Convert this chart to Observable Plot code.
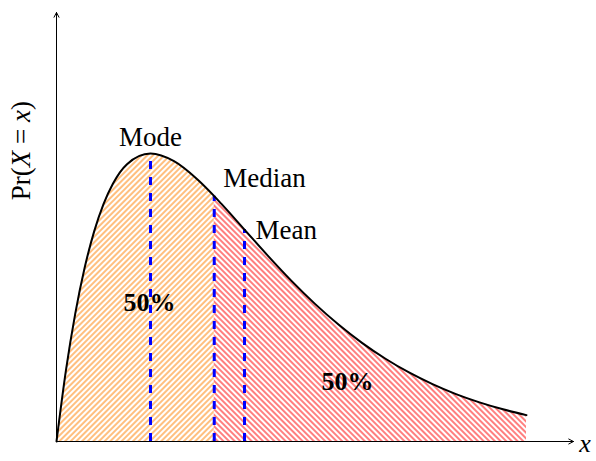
<!DOCTYPE html>
<html><head><meta charset="utf-8">
<script src="https://cdn.jsdelivr.net/npm/d3@7"></script>
<script src="https://cdn.jsdelivr.net/npm/@observablehq/plot@0.6"></script>
<style>html,body{margin:0;padding:0;background:#fff;} svg text{font-family:'Liberation Serif','Times New Roman',serif;}</style>
</head><body><div id="chart"></div>
<script>
// Curve (x in arbitrary units, density)
const xValues = [0, 0.1, 0.2, 0.3, 0.4, 0.5, 0.6, 0.75, 1.0, 1.25, 1.5, 1.678, 1.75, 2.0, 2.25, 2.5, 2.75, 3.0, 3.25, 3.5, 3.75, 4.0, 4.25, 4.5, 4.75, 5.0];
const densityValues = [0, 0.0905, 0.1637, 0.2222, 0.2681, 0.3033, 0.3293, 0.3543, 0.3679, 0.3581, 0.3347, 0.3134, 0.3041, 0.2707, 0.2372, 0.2052, 0.1758, 0.1494, 0.1260, 0.1057, 0.0882, 0.0733, 0.0606, 0.0500, 0.0411, 0.0337];
// Statistics marked with dashed lines
const statNames = ["Mode", "Median", "Mean"];
const statX = [1.0, 1.678, 2.0];
const statY = [0.3679, 0.3134, 0.2707];
// Area labels
const halfLabels = ["50%", "50%"];
const yLabel = "Pr(X = x)";
const xLabel = "x";

const curve = xValues.map((x, i) => ({x, y: densityValues[i]}));
const medianX = statX[1];
const leftPart = curve.filter(d => d.x <= medianX);
const rightPart = curve.filter(d => d.x >= medianX);
const stats = statNames.map((name, i) => ({name, x: statX[i], y: statY[i], base: 0}));
const axesData = [
  {x1: 0, y1: 0, x2: 5.5, y2: 0},
  {x1: 0, y1: 0, x2: 0, y2: 0.548}
];

const serif = "'Liberation Serif', 'Times New Roman', serif";
const fs = 27;

const svg = Plot.plot({
  width: 596, height: 461,
  marginLeft: 56, marginRight: 23, marginTop: 12, marginBottom: 20,
  x: {domain: [0, 5.5], axis: null},
  y: {domain: [0, 0.548], axis: null},
  style: {background: "white", fontFamily: serif, overflow: "visible", color: "black"},
  marks: [
    Plot.areaY(leftPart, {x: "x", y: "y", fill: "url(#hatch-orange)", curve: "monotone-x"}),
    Plot.areaY(rightPart, {x: "x", y: "y", fill: "url(#hatch-red)", curve: "monotone-x"}),
    Plot.ruleX(stats, {x: "x", y1: "base", y2: "y", stroke: "blue", strokeWidth: 3, strokeDasharray: "8,8"}),
    Plot.line(curve, {x: "x", y: "y", stroke: "black", strokeWidth: 2, curve: "monotone-x"}),
    Plot.arrow(axesData, {x1: "x1", y1: "y1", x2: "x2", y2: "y2", stroke: "black", strokeWidth: 1, headLength: 8, headAngle: 55}),
    Plot.text(stats.filter(d => d.name === "Mode"), {x: "x", y: "y", text: "name", textAnchor: "middle", lineAnchor: "bottom", dy: -7, fontSize: fs, fontFamily: serif}),
    Plot.text(stats.filter(d => d.name === "Median"), {x: "x", y: "y", text: "name", textAnchor: "start", lineAnchor: "bottom", dx: 9, dy: -9, fontSize: fs, fontFamily: serif}),
    Plot.text(stats.filter(d => d.name === "Mean"), {x: "x", y: "y", text: "name", textAnchor: "start", lineAnchor: "bottom", dx: 11, dy: 9, fontSize: fs, fontFamily: serif}),
    Plot.text([halfLabels[0]], {x: [0.989], y: [0.167], text: d => d, textAnchor: "middle", lineAnchor: "bottom", fontSize: 26, fontWeight: "bold", fontFamily: serif}),
    Plot.text([halfLabels[1]], {x: [3.096], y: [0.0664], text: d => d, textAnchor: "middle", lineAnchor: "bottom", fontSize: 26, fontWeight: "bold", fontFamily: serif}),
    Plot.text([yLabel], {x: [-0.372], y: [0.3716], text: d => d, rotate: -90, textAnchor: "middle", lineAnchor: "middle", fontSize: fs, fontFamily: serif}),
    Plot.text([xLabel], {x: [5.56], y: [-0.0135], text: d => d, textAnchor: "start", lineAnchor: "bottom", fontSize: 26, fontStyle: "italic", fontFamily: serif})
  ]
});

// hatch patterns
const defs = d3.select(svg).insert("defs", ":first-child");
function hatch(id, color, angle) {
  const p = defs.append("pattern").attr("id", id)
    .attr("patternUnits", "userSpaceOnUse")
    .attr("width", 4).attr("height", 4)
    .attr("patternTransform", `rotate(${angle})`);
  p.append("line").attr("x1", 2).attr("y1", -1).attr("x2", 2).attr("y2", 5)
    .attr("stroke", color).attr("stroke-width", 1.0);
}
hatch("hatch-orange", "#ff8000", 45);
hatch("hatch-red", "#ff0000", -45);

// italic math variables in the y label
d3.select(svg).selectAll("text").each(function() {
  if (this.textContent === yLabel) {
    const t = d3.select(this);
    t.text(null);
    t.append("tspan").text("Pr(");
    t.append("tspan").attr("font-style", "italic").text("X");
    t.append("tspan").text(" = ");
    t.append("tspan").attr("font-style", "italic").text("x");
    t.append("tspan").text(")");
  }
});

document.getElementById("chart").appendChild(svg);
</script>
</body></html>
